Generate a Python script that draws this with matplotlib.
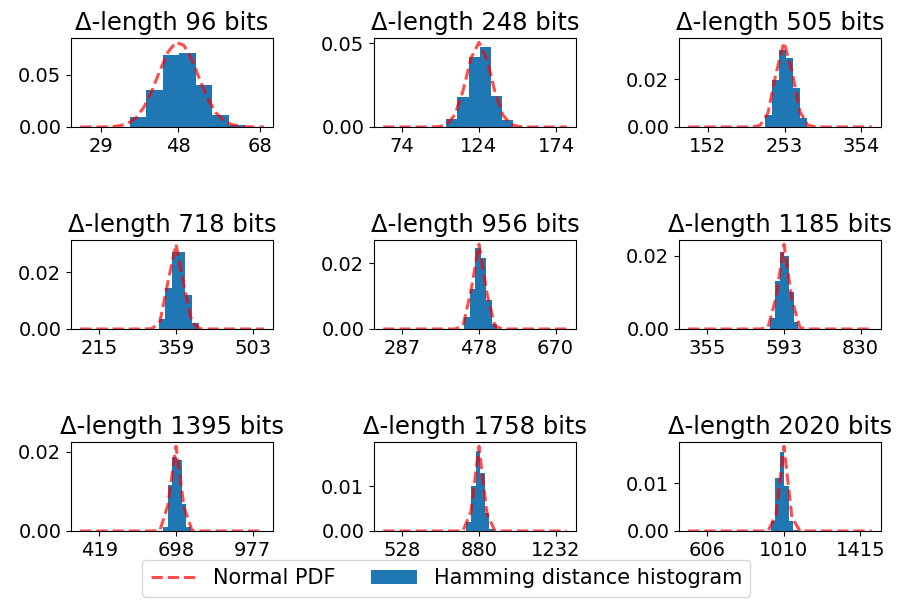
import numpy as np
import matplotlib
matplotlib.use('Agg')
import matplotlib.pyplot as plt

# delta lengths (bits) for each panel
lengths = [96, 248, 505, 718, 956, 1185, 1395, 1758, 2020]

# normal pdf parameters (mean, std) per panel
pdf_mean = [48.0, 124.0, 252.5, 359.0, 478.0, 592.5, 697.5, 879.0, 1010.0]
pdf_std = [4.9, 7.87, 11.24, 13.4, 15.46, 17.21, 18.67, 20.96, 22.47]
# x range of the dashed pdf line
pdf_lo = [24, 62, 126, 180, 239, 296, 349, 440, 505]
pdf_hi = [69, 181, 368, 524, 698, 865, 1018, 1283, 1475]

# histogram bin edges + densities
hist_edges = [
    [36.1, 40.2, 44.3, 48.3, 52.3, 56.3, 60.4, 64.5],
    [102.8, 110.0, 117.4, 124.6, 131.8, 139.0, 146.2],
    [226.6, 236.0, 245.4, 254.8, 264.2, 273.6, 283.0],
    [327.0, 339.5, 352.0, 364.5, 377.0, 389.5, 402.0],
    [441.8, 455.5, 469.2, 482.9, 496.6, 510.3, 524.0],
    [550.0, 564.5, 579.0, 593.5, 608.0, 622.5, 637.0],
    [651.0, 668.0, 685.0, 702.0, 719.0, 736.0, 753.0],
    [822.0, 843.0, 864.0, 885.0, 906.0, 927.0, 948.0],
    [940.0, 964.0, 988.0, 1012.0, 1036.0, 1060.0, 1084.0],
]
hist_dens = [
    [0.0097, 0.0358, 0.0686, 0.0711, 0.0403, 0.0113, 0.0016],
    [0.0046, 0.0178, 0.0420, 0.0480, 0.0188, 0.0040],
    [0.0050, 0.0197, 0.0323, 0.0288, 0.0162, 0.0036],
    [0.0035, 0.0143, 0.0270, 0.0272, 0.0119, 0.0020],
    [0.0036, 0.0123, 0.0246, 0.0215, 0.0087, 0.0015],
    [0.0030, 0.0130, 0.0210, 0.0200, 0.0100, 0.0020],
    [0.0010, 0.0115, 0.0187, 0.0179, 0.0068, 0.0009],
    [0.0020, 0.0100, 0.0180, 0.0130, 0.0040, 0.0005],
    [0.0020, 0.0110, 0.0165, 0.0095, 0.0020, 0.0003],
]

xticks = [[29, 48, 68], [74, 124, 174], [152, 253, 354],
          [215, 359, 503], [287, 478, 670], [355, 593, 830],
          [419, 698, 977], [528, 880, 1232], [606, 1010, 1415]]
yticks = [[0, 0.05], [0, 0.05], [0, 0.02],
          [0, 0.02], [0, 0.02], [0, 0.02],
          [0, 0.02], [0, 0.01], [0, 0.01]]

W, H = 898, 604
fig = plt.figure(figsize=(W / 100, H / 100), dpi=100)
plt.rcParams['font.size'] = 14

col_left = [71, 374, 679]
row_top = [38, 240, 442]
aw, ah = 202, 89

for i in range(9):
    r, c = divmod(i, 3)
    ax = fig.add_axes([col_left[c] / W, 1 - (row_top[r] + ah) / H, aw / W, ah / H])
    e = np.array(hist_edges[i])
    ax.bar(e[:-1], hist_dens[i], width=np.diff(e), align='edge',
           color='#1f77b4', label='Hamming distance histogram')
    xs = np.linspace(pdf_lo[i], pdf_hi[i], 24)
    ys = np.exp(-0.5 * ((xs - pdf_mean[i]) / pdf_std[i]) ** 2) / (pdf_std[i] * np.sqrt(2 * np.pi))
    ax.plot(xs, ys, '--', color='red', alpha=0.7, lw=2.2, label='Normal PDF')
    ax.set_xticks(xticks[i])
    ax.set_xticklabels([str(t) for t in xticks[i]], fontsize=14)
    ax.set_yticks(yticks[i])
    ax.set_yticklabels(['%.2f' % t for t in yticks[i]], fontsize=14)
    ax.set_title('Δ-length %d bits' % lengths[i], fontsize=17.5)
    if i == 0:
        handles, labels = ax.get_legend_handles_labels()

# make sure Normal PDF comes first
order = [labels.index('Normal PDF'), labels.index('Hamming distance histogram')]
fig.legend([handles[k] for k in order], [labels[k] for k in order],
           loc='lower center', ncol=2, bbox_to_anchor=(0.497, -0.005),
           fontsize=15, handlelength=2.2, columnspacing=1.7)

fig.savefig('out.png', dpi=100)
